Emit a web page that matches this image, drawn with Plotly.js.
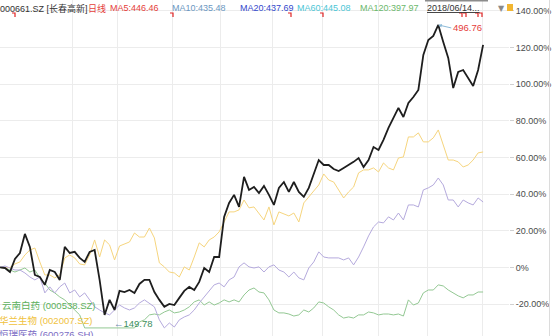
<!DOCTYPE html>
<html><head><meta charset="utf-8">
<script src="https://cdn.plot.ly/plotly-3.0.1.min.js"></script>
<style>html,body{margin:0;padding:0;background:#fff;overflow:hidden}#chart{width:554px;height:336px}</style>
</head><body><div id="chart"></div>
<script>
// trading-day index
const day = [0,1,2,3,4,5,6,7,8,9,10,11,12,13,14,15,16,17,18,19,20,21,22,23,24,25,26,27,28,29,30,31,32,33,34,35,36,37,38,39,40,41,42,43,44,45,46,47,48,49,50,51,52,53,54,55,56,57,58,59,60,61,62,63,64,65,66,67,68,69,70,71,72,73,74,75,76,77,78,79,80,81,82,83,84,85,86,87,88,89,90,91,92,93,94,95,96,97];

// % change series
const changchun = [0,-0.3,-2.5,4.6,7.9,18.3,11.2,-4.1,-5.2,-9.5,-1.4,-2.5,-6.8,11.2,7.9,8.5,5.2,3.0,8.5,9.5,-6.8,-25.9,-17.7,-23.2,-12.8,-13.4,-12.3,-13.9,-9.0,-6.8,-6.8,-13.4,-17.7,-21.5,-19.9,-20.5,-16.6,-12.8,-10.6,-12.3,-7.9,-0.3,-2.5,5.7,5.7,27.6,35.2,39.6,33.0,49.4,42.3,43.9,40.6,44.5,39.6,34.1,43.4,46.6,41.2,46.6,41.2,38.5,43.4,50.5,58.6,55.9,55.9,53.7,52.6,54.3,55.9,57.6,59.7,54.8,58.6,65.7,64.1,69.6,76.1,81.6,87.0,82.1,89.7,93.0,96.8,115.9,124.1,126.3,132.3,123.0,114.3,97.9,106.7,107.7,103.4,99.0,107.7,121.4];
const hualan = [0,-0.3,0,1.9,3.0,6.8,9.5,10.6,3.0,-4.1,-4.1,-5.7,-4.1,5.2,6.8,5.2,1.9,1.4,6.8,15.0,5.7,15.0,12.3,4.1,11.7,12.8,13.9,18.8,16.6,16.6,21.5,16.1,2.5,0.3,-2.5,-3.0,-5.2,0.3,-1.4,5.7,13.4,11.2,15.0,16.6,19.4,24.8,30.3,30.3,31.4,36.8,32.5,33.0,29.7,25.9,33.0,23.2,30.3,29.2,28.1,29.7,24.8,35.2,38.5,42.3,45.0,51.0,47.7,46.6,42.3,37.9,41.2,43.9,51.6,53.2,53.2,54.3,52.1,57.0,54.3,53.2,59.7,60.3,71.2,71.2,73.4,68.5,68.5,70.7,75.0,66.8,58.6,58.6,57.6,54.8,55.9,58.6,62.5,63.0];
const hengrui = [0,0.8,-0.3,-1.4,-1.4,-3.0,-5.2,-6.8,-5.2,-13.9,-10.6,-13.9,-10.6,-8.5,-13.9,-12.3,-16.1,-13.9,-17.7,-21.5,-23.2,-24.8,-25.9,-23.2,-20.5,-22.1,-23.2,-22.1,-19.4,-17.7,-19.4,-21.5,-28.6,-33.0,-30.3,-32.5,-28.6,-27.0,-25.9,-23.2,-19.4,-16.1,-12.3,-9.5,-8.5,-10.6,-6.8,-5.2,0.3,2.5,0.3,-0.3,0.3,-2.5,0.3,1.4,-1.4,-2.5,-5.2,-2.5,-5.7,-6.8,-0.3,3.0,8.5,5.7,5.2,5.2,5.2,4.1,5.2,1.4,5.7,11.2,17.2,22.1,24.8,24.3,27.6,25.9,29.7,25.9,34.1,34.1,33.0,42.3,43.4,45.0,48.8,45.0,36.8,36.8,33.0,36.8,35.2,34.1,37.9,35.7];
const yunnan = [0,-0.3,-1.4,-2.5,-1.4,-0.3,-2.5,-1.4,-5.7,-8.5,-12.3,-13.9,-16.1,-17.7,-20.5,-23.2,-25.9,-33.0,-33.0,-33.0,-33.0,-33.0,-33.0,-33.0,-33.0,-33.0,-33.0,-33.0,-29.7,-28.6,-25.9,-25.4,-25.9,-24.3,-23.2,-24.8,-24.3,-23.2,-21.5,-18.8,-17.7,-20.5,-18.8,-20.5,-19.4,-17.7,-18.8,-17.7,-18.8,-15.0,-12.3,-11.2,-13.4,-13.9,-17.7,-23.2,-24.8,-24.8,-25.4,-26.5,-25.9,-23.2,-24.3,-22.1,-18.8,-19.4,-21.5,-23.2,-25.9,-27.6,-27.0,-27.6,-25.9,-25.9,-24.3,-24.8,-25.9,-25.4,-25.4,-25.9,-25.4,-26.5,-17.7,-20.5,-19.4,-13.9,-12.3,-12.3,-9.5,-10.1,-12.3,-13.9,-15.5,-16.6,-15.0,-15.0,-13.4,-13.4];

const seriesNames = ['云南白药 (000538.SZ)','华兰生物 (002007.SZ)','恒瑞医药 (600276.SH)','长春高新 (000661.SZ)'];
const yTickVals = [-20,0,20,40,60,80,100,120,140];
const yTickText = ['-20.00%','0%','20.00%','40.00%','60.00%','80.00%','100.00%','120.00%','140.00%'];
const gridDays = [14.46,23.69,34.54,44.18,54.62,64.66,75.9,85.74,96.79];
const headerItems = ['000661.SZ [长春高新]','日线','MA5:446.46','MA10:435.48','MA20:437.69','MA60:445.08','MA120:397.97','2018/06/14...'];
const maxLabel = '496.76';
const minLabel = '149.78';

// ---- layout helpers (pixel -> paper) ----
const PW = 509, PH = 336;
const P = px => px / PW;
const Q = py => 1 - py / PH;
const FONT = 'Liberation Sans, Arial, "Noto Sans CJK SC", sans-serif';

const traces = [
  {x: day, y: yunnan, name: seriesNames[0], type: 'scatter', mode: 'lines', line: {color: '#93c893', width: 1}},
  {x: day, y: hualan, name: seriesNames[1], type: 'scatter', mode: 'lines', line: {color: '#f6d57e', width: 1}},
  {x: day, y: hengrui, name: seriesNames[2], type: 'scatter', mode: 'lines', line: {color: '#b5aadd', width: 1}},
  {x: day, y: changchun, name: seriesNames[3], type: 'scatter', mode: 'lines', line: {color: '#1e1e1e', width: 1.8}}
];

const headerX = [-1, 87, 109, 171, 239, 296, 359, 426];
const headerC = ['#333333','#e5403a','#e5403a','#6b98c2','#3348cc','#4cc6d6','#6bb86b','#333333'];
const ann = [];
headerItems.forEach((t, i) => {
  ann.push({xref:'paper', yref:'paper', x:P(headerX[i]), y:Q(8), xanchor:'left', yanchor:'middle', showarrow:false,
    borderpad:0, text: i === 7 ? '<u>' + t + '</u>' : t, font:{family:FONT, size:9, color:headerC[i]}});
});
ann.push({xref:'paper', yref:'paper', x:P(501), y:Q(8), xanchor:'center', yanchor:'middle', showarrow:false,
  text:'▼', font:{family:'DejaVu Sans', size:8, color:'#8a8a8a'}});

// legend-like labels at bottom left
const legC = ['#5cb05c','#f0c23c','#7b6cc4'];
const legY = [305, 320, 334];
const legX = [0, -3, -3];
for (let i = 0; i < 3; i++) {
  ann.push({xref:'paper', yref:'paper', x:P(legX[i]), y:Q(legY[i]), xanchor:'left', yanchor:'middle', showarrow:false,
    text: seriesNames[i], font:{family:FONT, size:9.5, color:legC[i]}});
}
// max marker
const iMax = changchun.indexOf(Math.max(...changchun));
ann.push({x: day[iMax], y: changchun[iMax], xref:'x', yref:'y', text: maxLabel, showarrow:true,
  ax: 13, ay: 3, xanchor:'left', yanchor:'middle', arrowcolor:'#8cbad8', arrowwidth:1, arrowhead:2, arrowsize:0.7,
  standoff:0, font:{family:FONT, size:9.5, color:'#e5403a'}});
// min label
ann.push({xref:'paper', yref:'paper', x:P(112), y:Q(323), xanchor:'left', yanchor:'middle', showarrow:false,
  text:'<span style="color:#6f8fb5">←</span>' + minLabel, font:{family:FONT, size:9.5, color:'#3c8f5e'}});

// shapes: event markers, icons, border
const shapes = [];
const mark = px => ({type:'path', xref:'paper', yref:'paper',
  path:`M ${P(px)},${Q(13)} L ${P(px+3)},${Q(13)} L ${P(px+3)},${Q(17)}`, line:{color:'#e02424', width:1.2}});
[12, 170, 288, 320, 459, 463, 475, 479].forEach(px => shapes.push(mark(px)));
shapes.push({type:'rect', xref:'paper', yref:'paper', x0:P(425), x1:P(488), y0:Q(1.6), y1:Q(0), fillcolor:'#8c8c8c', line:{width:0}});
shapes.push({type:'rect', xref:'paper', yref:'paper', x0:P(507), x1:P(513), y0:Q(11), y1:Q(4), fillcolor:'#f2b632', line:{width:0}});
shapes.push({type:'line', xref:'paper', yref:'paper', x0:P(549.5), x1:P(549.5), y0:0, y1:1, line:{color:'#dcdcdc', width:1}});

const layout = {
  width: 554, height: 336,
  margin: {l:0, r:45, t:0, b:0, pad:0},
  paper_bgcolor:'#ffffff', plot_bgcolor:'#ffffff',
  showlegend:false,
  xaxis: {range:[0, 102.2], tickvals:gridDays, showticklabels:false, ticks:'', showgrid:true, gridcolor:'#ececec',
          gridwidth:1, zeroline:false, showline:false, fixedrange:true},
  yaxis: {side:'right', range:[-37.4, 145.9], tickvals:yTickVals, ticktext:yTickText, ticks:'outside', ticklen:4,
          ticklabeloverflow:'allow', tickcolor:'#d0d0d0', gridcolor:'#ececec', zeroline:false, showline:false, fixedrange:true,
          tickfont:{family:FONT, size:9, color:'#4a4a4a'}},
  annotations: ann,
  shapes: shapes,
  font: {family: FONT}
};

Plotly.newPlot('chart', traces, layout, {staticPlot:true, displayModeBar:false});
</script>
</body></html>
